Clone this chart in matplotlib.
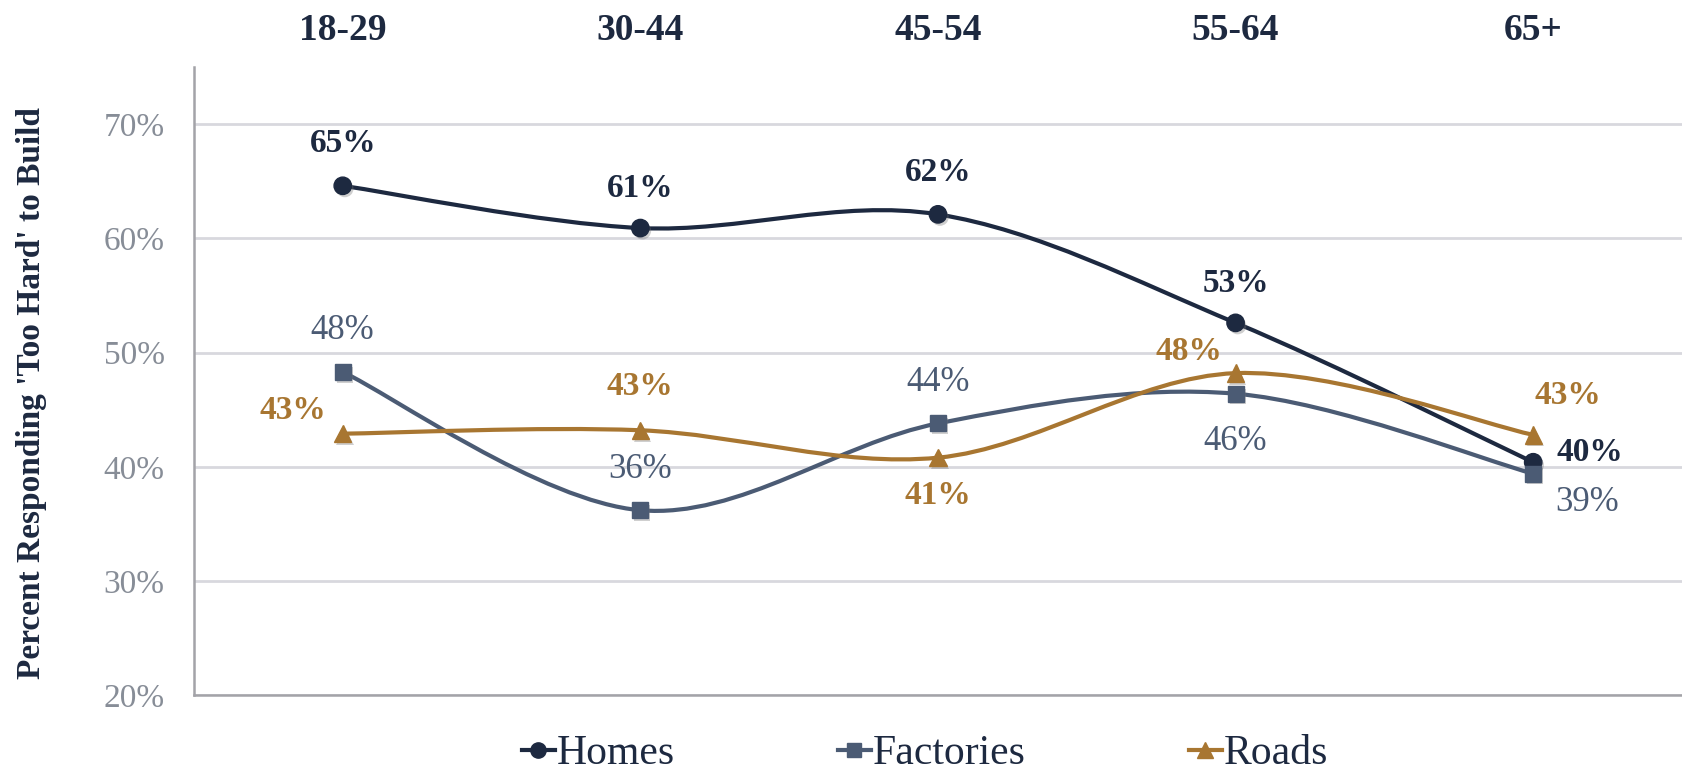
import matplotlib
matplotlib.use("Agg")
import matplotlib.pyplot as plt
import matplotlib.patheffects as pe
from matplotlib.path import Path
from matplotlib.patches import PathPatch
from matplotlib.lines import Line2D

plt.rcParams["font.family"] = ["Liberation Serif", "DejaVu Serif"]

age_groups = ["18-29", "30-44", "45-54", "55-64", "65+"]
homes = [64.6, 60.9, 62.1, 52.6, 40.4]
factories = [48.3, 36.2, 43.8, 46.4, 39.4]
roads = [42.9, 43.2, 40.8, 48.2, 42.8]

NAVY = "#1d2940"
SLATE = "#4b5b74"
GOLD = "#a87631"
TICK_GRAY = "#878d97"

# label offsets in pixels (dx, dy) relative to each point
homes_off = [(0, 42), (0, 40), (0, 42), (0, 39), (57, 10)]
factories_off = [(0, 42), (0, 41), (0, 41), (0, -48), (54, -29)]
roads_off = [(-50, 23), (0, 44), (0, -38), (-47, 22), (35, 39)]


def smooth_path(xs, ys, t=1 / 6):
    # bezier segments like a spreadsheet "smoothed line"
    n = len(xs)
    pts = list(zip(xs, ys))
    verts = [pts[0]]
    codes = [Path.MOVETO]
    for i in range(n - 1):
        p0 = pts[max(i - 1, 0)]
        p1 = pts[i]
        p2 = pts[i + 1]
        p3 = pts[min(i + 2, n - 1)]
        c1 = (p1[0] + (p2[0] - p0[0]) * t, p1[1] + (p2[1] - p0[1]) * t)
        c2 = (p2[0] - (p3[0] - p1[0]) * t, p2[1] - (p3[1] - p1[1]) * t)
        verts += [c1, c2, p2]
        codes += [Path.CURVE4] * 3
    return Path(verts, codes)


fig = plt.figure(figsize=(16.82, 7.78), dpi=100)
ax = fig.add_axes([0.1153, 0.1063, 0.8847, 0.8076])

x = list(range(len(age_groups)))
series = [
    ("Homes", homes, NAVY, "o", 12.5, homes_off, "bold", 24),
    ("Factories", factories, SLATE, "s", 11.5, factories_off, "normal", 25),
    ("Roads", roads, GOLD, "^", 12.5, roads_off, "bold", 24),
]

shadow = [pe.SimplePatchShadow(offset=(1.5, -2), shadow_rgbFace="#777777", alpha=0.35), pe.Normal()]
handles = []
for name, vals, color, marker, ms, offs, weight, fs in series:
    patch = PathPatch(smooth_path(x, vals), facecolor="none", edgecolor=color,
                      linewidth=3.0, capstyle="round", zorder=3)
    ax.add_patch(patch)
    ax.plot(x, vals, linestyle="none", marker=marker, markersize=ms, color=color,
            zorder=4, path_effects=shadow)
    for xi, v, (dx, dy) in zip(x, vals, offs):
        ax.annotate(f"{round(v)}%", (xi, v), xytext=(dx, dy), textcoords="offset pixels",
                    ha="center", va="center", fontsize=fs, fontweight=weight,
                    color=color, zorder=5)
    handles.append(Line2D([], [], color=color, linewidth=3.0, marker=marker,
                          markersize=ms - 1.5, label=name))

ax.set_xlim(-0.5, 4.5)
ax.set_ylim(20, 75)
ax.set_yticks([20, 30, 40, 50, 60, 70])
ax.set_yticklabels([f"{v}%" for v in [20, 30, 40, 50, 60, 70]])
ax.set_xticks(x)
ax.set_xticklabels(age_groups, fontsize=27, fontweight="bold", color=NAVY)
ax.xaxis.tick_top()
ax.tick_params(axis="x", length=0, pad=14)
ax.tick_params(axis="y", length=0, pad=21, labelsize=24, labelcolor=TICK_GRAY)

ax.grid(axis="y", color="#d8d8de", linewidth=2)
ax.set_axisbelow(True)
for side in ["top", "right"]:
    ax.spines[side].set_visible(False)
for side in ["left", "bottom"]:
    ax.spines[side].set_color("#a3a3a8")
    ax.spines[side].set_linewidth(1.8)

fig.text(32 / 1682, 1 - 393 / 778, "Percent Responding 'Too Hard' to Build",
         rotation=90, ha="center", va="center", fontsize=24,
         fontweight="bold", color=NAVY)

fig.legend(handles=handles, loc="center", bbox_to_anchor=(0.55, 0.031), ncol=3,
           frameon=False, fontsize=30, handlelength=0.8, handletextpad=0.05,
           columnspacing=3.9, borderpad=0, labelcolor=NAVY)

fig.savefig("out.png", dpi=100)
